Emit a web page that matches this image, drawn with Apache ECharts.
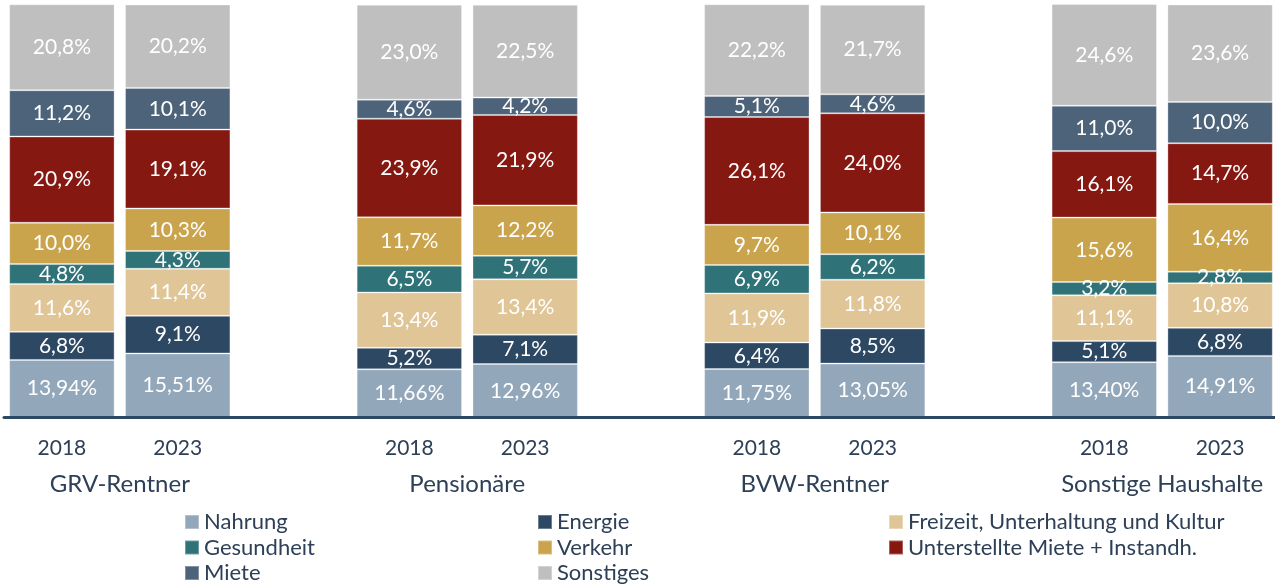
<!DOCTYPE html>
<html>
<head>
<meta charset="utf-8">
<script src="https://cdn.jsdelivr.net/npm/echarts@6/dist/echarts.min.js"></script>
<style>
  html, body { margin: 0; padding: 0; background: #fff; }
  #chart { width: 1275px; height: 585px; }
</style>
</head>
<body>
<div id="chart"></div>
<script>
// Haushaltsgruppen und Jahre
const groups = ['GRV-Rentner', 'Pensionäre', 'BVW-Rentner', 'Sonstige Haushalte'];
const years = ['2018', '2023'];

// Werte je Balken: GRV 2018, GRV 2023, Pens 2018, Pens 2023, BVW 2018, BVW 2023, Sonst 2018, Sonst 2023
const nahrung     = [13.94, 15.51, 11.66, 12.96, 11.75, 13.05, 13.40, 14.91];
const energie     = [6.8, 9.1, 5.2, 7.1, 6.4, 8.5, 5.1, 6.8];
const freizeit    = [11.6, 11.4, 13.4, 13.4, 11.9, 11.8, 11.1, 10.8];
const gesundheit  = [4.8, 4.3, 6.5, 5.7, 6.9, 6.2, 3.2, 2.8];
const verkehr     = [10.0, 10.3, 11.7, 12.2, 9.7, 10.1, 15.6, 16.4];
const unterstellt = [20.9, 19.1, 23.9, 21.9, 26.1, 24.0, 16.1, 14.7];
const miete       = [11.2, 10.1, 4.6, 4.2, 5.1, 4.6, 11.0, 10.0];
const sonstiges   = [20.8, 20.2, 23.0, 22.5, 22.2, 21.7, 24.6, 23.6];

const seriesDefs = [
  { name: 'Nahrung', data: nahrung, color: '#93a7bb', dec: 2 },
  { name: 'Energie', data: energie, color: '#2d4863', dec: 1 },
  { name: 'Freizeit, Unterhaltung und Kultur', data: freizeit, color: '#e0c597', dec: 1 },
  { name: 'Gesundheit', data: gesundheit, color: '#2f7379', dec: 1 },
  { name: 'Verkehr', data: verkehr, color: '#c9a44d', dec: 1 },
  { name: 'Unterstellte Miete + Instandh.', data: unterstellt, color: '#861812', dec: 1 },
  { name: 'Miete', data: miete, color: '#4d637a', dec: 1 },
  { name: 'Sonstiges', data: sonstiges, color: '#bfbfbf', dec: 1 }
];

const textColor = '#2e4057';
const font = 'Lato, "Open Sans", sans-serif';

// Kategorien: zwei Jahre je Gruppe, leere Lücke dazwischen
const categories = [];
groups.forEach((g, gi) => {
  years.forEach(y => categories.push(y));
  if (gi < groups.length - 1) categories.push('');
});

function withGaps(arr) {
  const out = [];
  groups.forEach((g, gi) => {
    years.forEach((y, yi) => out.push(arr[gi * years.length + yi]));
    if (gi < groups.length - 1) out.push('-');
  });
  return out;
}

const groupCenters = groups.map((g, gi) => gi * (years.length + 1) + (years.length - 1) / 2);

const chart = echarts.init(document.getElementById('chart'));

const legendBase = {
  orient: 'vertical',
  icon: 'rect',
  itemWidth: 14,
  itemHeight: 14,
  itemGap: 3.5,
  padding: 0,
  top: 511,
  selectedMode: false,
  textStyle: { color: textColor, fontSize: 22, fontFamily: font }
};

chart.setOption({
  animation: false,
  textStyle: { fontFamily: font },
  grid: { left: 4, top: 4.5, width: 1274, height: 413, outerBoundsMode: 'none' },
  legend: [
    Object.assign({}, legendBase, { left: 184, data: ['Nahrung', 'Gesundheit', 'Miete'] }),
    Object.assign({}, legendBase, { left: 537, data: ['Energie', 'Verkehr', 'Sonstiges'] }),
    Object.assign({}, legendBase, { left: 888, data: ['Freizeit, Unterhaltung und Kultur', 'Unterstellte Miete + Instandh.'] })
  ],
  xAxis: [
    {
      type: 'category',
      data: categories,
      z: 3,
      axisLine: { lineStyle: { color: '#2d4863', width: 3 } },
      axisTick: { show: false },
      axisLabel: { color: textColor, fontSize: 21, margin: 20, interval: 0 }
    },
    {
      type: 'value',
      position: 'bottom',
      min: -0.5,
      max: categories.length - 0.5,
      axisLine: { show: false },
      axisTick: { show: false },
      splitLine: { show: false },
      axisLabel: {
        customValues: groupCenters,
        color: textColor,
        fontSize: 24,
        margin: 55,
        formatter: v => groups[groupCenters.indexOf(v)] || ''
      }
    }
  ],
  yAxis: { type: 'value', min: 0, max: 100, show: false },
  series: seriesDefs.map(s => ({
    name: s.name,
    type: 'bar',
    stack: 'total',
    barWidth: '91%',
    color: s.color,
    data: withGaps(s.data),
    itemStyle: { borderColor: 'rgba(255,255,255,0.3)', borderWidth: 1 },
    label: {
      show: true,
      position: 'inside',
      color: '#fff',
      fontSize: 21,
      formatter: p => p.value.toFixed(s.dec).replace('.', ',') + '%'
    }
  }))
});
</script>
</body>
</html>
